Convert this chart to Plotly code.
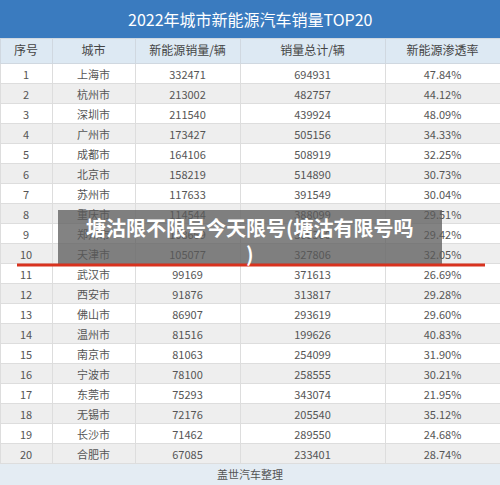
import plotly.graph_objects as go

rank = list(range(1, 21))
cities = ["上海市","杭州市","深圳市","广州市","成都市","北京市","苏州市","重庆市","郑州市","天津市",
          "武汉市","西安市","佛山市","温州市","南京市","宁波市","东莞市","无锡市","长沙市","合肥市"]
nev = [332471,213002,211540,173427,164106,158219,117633,114544,108669,105077,
       99169,91876,86907,81516,81063,78100,75293,72176,71462,67085]
total = [694931,482757,439924,505156,508919,514890,391549,388099,369300,327806,
         371613,313817,293619,199626,254099,258555,343074,205540,289550,233401]
rate = ["47.84%","44.12%","48.09%","34.33%","32.25%","30.73%","30.04%","29.51%","29.42%","32.05%",
        "26.69%","29.28%","29.60%","40.83%","31.90%","30.21%","21.95%","35.12%","24.68%","28.74%"]
headers = ["序号","城市","新能源销量/辆","销量总计/辆","新能源渗透率"]

H = 485
def py(p): return 1 - p / H

fills = ["#ffffff" if i % 2 == 0 else "#eeeeee" for i in range(20)]
font = "Noto Sans CJK SC"
fig = go.Figure(go.Table(
    domain=dict(x=[0, 1], y=[py(464), py(38)]),
    columnwidth=[52, 83, 105, 145, 115],
    header=dict(values=headers, fill_color="#dde9f3", line_color="#d0d8e0", height=25,
                font=dict(family=font, size=12, color="#444444"), align="center"),
    cells=dict(values=[rank, cities, nev, total, rate], fill_color=[fills]*5,
               line_color="#dddddd", height=20,
               font=dict(family=font, size=11, color="#555555"), align="center"),
))
shapes = [
    dict(type="rect", xref="paper", yref="paper", x0=0, x1=1, y0=py(38), y1=1,
         fillcolor="#3a7bbf", line_width=0, layer="below"),
    dict(type="rect", xref="paper", yref="paper", x0=0, x1=1, y0=0, y1=py(464),
         fillcolor="#e4ecf3", line_width=0, layer="below"),
    dict(type="rect", xref="paper", yref="paper", x0=58/500, x1=442/500, y0=py(264), y1=py(210),
         fillcolor="rgba(90,90,90,0.75)", line_width=0),
    dict(type="line", xref="paper", yref="paper", x0=17/500, x1=485/500, y0=py(265), y1=py(265),
         line=dict(color="#d8321e", width=3)),
]
annotations = [
    dict(text="2022年城市新能源汽车销量TOP20", x=0.5, y=py(19), xref="paper", yref="paper",
         yanchor="middle", showarrow=False, font=dict(family=font, size=16, color="white")),
    dict(text="盖世汽车整理", x=0.5, y=py(474), xref="paper", yref="paper", yanchor="middle",
         showarrow=False, font=dict(family=font, size=11, color="#555555")),
    dict(text="<b>塘沽限不限号今天限号(塘沽有限号吗</b>", x=0.5, y=py(227), xref="paper", yref="paper",
         yanchor="middle", showarrow=False, font=dict(family=font, size=20, color="white")),
    dict(text="<b>)</b>", x=0.5, y=py(253), xref="paper", yref="paper", yanchor="middle",
         showarrow=False, font=dict(family=font, size=20, color="white")),
]
fig.update_layout(width=500, height=485, margin=dict(l=0, r=0, t=0, b=0),
                  paper_bgcolor="#ffffff", shapes=shapes, annotations=annotations)
fig.write_html("out.html", config={"displayModeBar": False},
               post_script="document.body.style.margin='0';document.body.style.overflow='hidden';")
